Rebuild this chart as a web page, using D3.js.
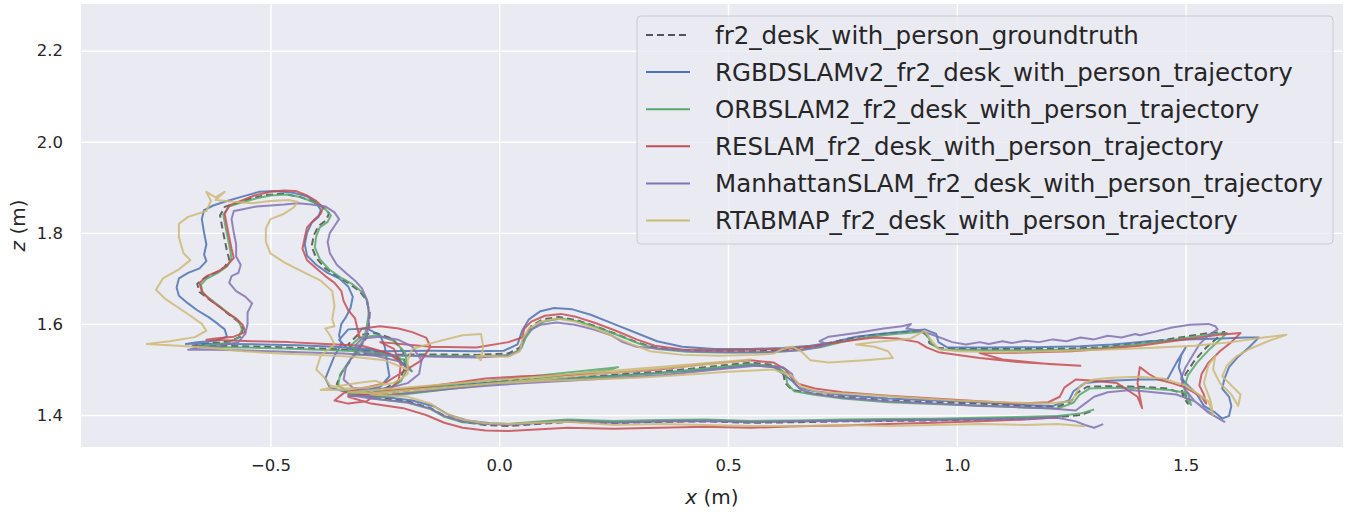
<!DOCTYPE html>
<html>
<head>
<meta charset="utf-8">
<script src="https://cdn.jsdelivr.net/npm/d3@7"></script>
<style>
  body { margin: 0; background: #fff; }
  text { font-family: "DejaVu Sans", sans-serif; fill: #262626; }
</style>
</head>
<body>
<script>
// trajectories, [x, z] in metres
const groundtruth = [
  [-0.20,1.500],[-0.22,1.525],[-0.26,1.538],[-0.32,1.543],[-0.40,1.546],[-0.48,1.549],[-0.56,1.551],[-0.63,1.552],[-0.67,1.552],
  [-0.64,1.557],[-0.59,1.561],[-0.565,1.572],[-0.56,1.590],[-0.57,1.605],[-0.59,1.620],[-0.61,1.637],[-0.635,1.655],[-0.655,1.670],[-0.66,1.688],[-0.645,1.700],[-0.62,1.712],[-0.60,1.725],[-0.59,1.742],[-0.595,1.760],[-0.60,1.785],[-0.605,1.810],[-0.61,1.838],[-0.60,1.857],[-0.575,1.865],[-0.545,1.875],[-0.51,1.883],[-0.475,1.886],[-0.44,1.880],[-0.41,1.870],[-0.385,1.857],[-0.372,1.843],[-0.378,1.828],[-0.395,1.815],[-0.405,1.795],[-0.41,1.770],[-0.40,1.745],[-0.38,1.722],[-0.355,1.705],[-0.33,1.690],[-0.305,1.672],[-0.29,1.652],[-0.283,1.625],[-0.285,1.595],[-0.29,1.570],
  [-0.305,1.548],[-0.325,1.520],[-0.345,1.492],[-0.355,1.468],[-0.335,1.452],[-0.29,1.450],[-0.25,1.458],[-0.22,1.475],[-0.205,1.505],[-0.21,1.540],[-0.235,1.568],[-0.27,1.580],[-0.31,1.575],[-0.33,1.555],[-0.31,1.535],[-0.25,1.532],
  [-0.15,1.533],[-0.05,1.532],[0.02,1.535],[0.045,1.548],[0.055,1.572],[0.07,1.595],[0.095,1.610],[0.13,1.615],[0.17,1.608],[0.21,1.595],[0.255,1.578],[0.30,1.560],[0.34,1.548],[0.40,1.542],[0.47,1.540],[0.55,1.540],[0.62,1.542],[0.69,1.550],[0.75,1.565],[0.80,1.574],[0.86,1.580],[0.92,1.585],[0.935,1.575],[0.94,1.558],[0.96,1.547],[1.05,1.545],[1.15,1.545],[1.25,1.546],[1.31,1.548],[1.38,1.556],[1.44,1.563],[1.50,1.572],[1.55,1.580],[1.585,1.582],
  [1.57,1.570],[1.545,1.548],[1.52,1.520],[1.50,1.490],[1.49,1.462],[1.495,1.440],[1.505,1.425],[1.50,1.445],
  [1.46,1.458],[1.40,1.462],[1.33,1.463],[1.285,1.462],[1.262,1.448],[1.25,1.430],[1.22,1.418],[1.15,1.420],[1.05,1.425],[0.95,1.428],[0.85,1.432],[0.75,1.440],[0.68,1.448],[0.64,1.455],[0.625,1.470],[0.62,1.495],[0.60,1.510],[0.55,1.515],[0.45,1.505],[0.35,1.495],[0.25,1.488],[0.15,1.482],[0.05,1.478],[-0.03,1.472],[-0.10,1.465],[-0.16,1.458],[-0.22,1.450],[-0.28,1.443],[-0.33,1.448],
  [-0.28,1.440],[-0.20,1.430],[-0.15,1.415],[-0.12,1.398],[-0.08,1.385],[-0.03,1.378],[0.02,1.376],[0.08,1.380],[0.15,1.385],[0.25,1.382],[0.35,1.385],[0.45,1.386],[0.55,1.383],[0.65,1.384],[0.75,1.386],[0.85,1.387],[0.95,1.388],[1.05,1.390],[1.15,1.392],[1.22,1.395],[1.27,1.400],[1.30,1.410]
]

const rgbdslam = [
  [-0.20,1.505],[-0.23,1.530],[-0.28,1.545],[-0.36,1.550],[-0.44,1.553],[-0.52,1.555],[-0.60,1.556],[-0.665,1.557],[-0.685,1.556],
  [-0.66,1.560],[-0.62,1.563],[-0.595,1.572],[-0.60,1.588],[-0.615,1.600],[-0.635,1.615],[-0.66,1.630],[-0.68,1.645],[-0.70,1.662],[-0.705,1.680],[-0.70,1.700],[-0.68,1.712],[-0.655,1.722],[-0.64,1.738],[-0.645,1.752],[-0.64,1.775],[-0.645,1.800],[-0.65,1.830],[-0.645,1.850],[-0.625,1.860],[-0.595,1.870],[-0.56,1.880],[-0.525,1.890],[-0.49,1.892],[-0.45,1.888],[-0.42,1.880],[-0.40,1.866],[-0.39,1.850],[-0.395,1.835],[-0.41,1.822],[-0.42,1.800],[-0.425,1.775],[-0.42,1.750],[-0.40,1.730],[-0.375,1.712],[-0.35,1.700],[-0.33,1.682],[-0.32,1.660],[-0.325,1.635],[-0.335,1.615],[-0.345,1.600],[-0.35,1.575],[-0.345,1.555],
  [-0.36,1.530],[-0.37,1.505],[-0.38,1.480],[-0.37,1.460],[-0.34,1.452],[-0.30,1.453],[-0.26,1.462],[-0.24,1.485],[-0.245,1.515],[-0.25,1.550],[-0.26,1.575],[-0.29,1.590],[-0.33,1.588],[-0.35,1.565],[-0.33,1.545],[-0.26,1.540],
  [-0.15,1.541],[-0.05,1.540],[0.01,1.541],[0.04,1.555],[0.05,1.585],[0.065,1.610],[0.09,1.628],[0.12,1.635],[0.16,1.632],[0.20,1.620],[0.25,1.600],[0.30,1.580],[0.345,1.562],[0.40,1.550],[0.47,1.545],[0.55,1.545],[0.62,1.547],[0.68,1.552],[0.73,1.560],[0.78,1.572],[0.83,1.578],[0.88,1.583],[0.93,1.588],[0.955,1.578],[0.96,1.560],[0.98,1.548],[1.07,1.548],[1.17,1.549],[1.27,1.551],[1.34,1.555],[1.42,1.562],[1.50,1.566],[1.58,1.568],[1.63,1.570],[1.66,1.570],
  [1.64,1.550],[1.615,1.528],[1.595,1.505],[1.585,1.480],[1.58,1.458],[1.595,1.440],[1.60,1.420],[1.595,1.398],[1.58,1.392],[1.565,1.405],
  [1.54,1.420],[1.525,1.445],[1.495,1.475],[1.485,1.505],[1.49,1.530],[1.50,1.548],[1.48,1.515],
  [1.46,1.478],[1.40,1.478],[1.33,1.475],[1.28,1.470],[1.255,1.452],[1.245,1.432],[1.21,1.420],[1.15,1.422],[1.05,1.428],[0.95,1.432],[0.85,1.436],[0.75,1.444],[0.69,1.452],[0.655,1.460],[0.64,1.475],[0.62,1.490],[0.60,1.505],[0.55,1.510],[0.45,1.500],[0.35,1.492],[0.25,1.486],[0.15,1.480],[0.05,1.476],[-0.03,1.470],[-0.10,1.466],[-0.16,1.460],[-0.22,1.455],[-0.28,1.448],[-0.33,1.452],
  [-0.27,1.442],[-0.19,1.432],[-0.14,1.418],[-0.11,1.400],[-0.07,1.388],[-0.02,1.382],[0.03,1.380],[0.09,1.384],[0.16,1.388],[0.26,1.384],[0.36,1.386],[0.46,1.388],[0.56,1.385],[0.66,1.386],[0.76,1.388],[0.86,1.389],[0.96,1.390],[1.06,1.392],[1.16,1.394],[1.23,1.397]
]

const orbslam = [
  [-0.19,1.495],[-0.21,1.522],[-0.25,1.535],[-0.31,1.540],[-0.39,1.543],[-0.47,1.546],[-0.55,1.548],[-0.62,1.549],[-0.665,1.548],
  [-0.64,1.553],[-0.595,1.558],[-0.57,1.570],[-0.562,1.588],[-0.568,1.603],[-0.585,1.618],[-0.605,1.634],[-0.628,1.652],[-0.648,1.668],[-0.652,1.686],[-0.64,1.699],[-0.615,1.712],[-0.595,1.726],[-0.585,1.744],[-0.588,1.762],[-0.593,1.788],[-0.598,1.812],[-0.603,1.840],[-0.59,1.858],[-0.565,1.866],[-0.53,1.876],[-0.50,1.882],[-0.465,1.884],[-0.432,1.878],[-0.403,1.866],[-0.38,1.852],[-0.368,1.838],[-0.375,1.824],[-0.392,1.812],[-0.40,1.792],[-0.403,1.768],[-0.392,1.742],[-0.372,1.720],[-0.348,1.703],[-0.322,1.688],[-0.30,1.670],[-0.288,1.650],[-0.285,1.622],[-0.29,1.592],[-0.295,1.568],
  [-0.31,1.545],[-0.33,1.515],[-0.348,1.488],[-0.352,1.465],[-0.33,1.450],[-0.285,1.447],[-0.245,1.456],[-0.215,1.474],[-0.20,1.502],[-0.205,1.536],[-0.228,1.562],[-0.265,1.575],[-0.305,1.570],[-0.325,1.552],[-0.305,1.533],[-0.245,1.530],
  [-0.14,1.530],[-0.04,1.529],[0.025,1.532],[0.048,1.546],[0.058,1.570],[0.074,1.592],[0.10,1.606],[0.135,1.612],[0.175,1.605],[0.215,1.592],[0.26,1.575],[0.305,1.557],[0.345,1.545],[0.41,1.539],[0.48,1.537],[0.56,1.537],[0.63,1.540],[0.70,1.548],[0.755,1.562],[0.805,1.571],[0.865,1.578],[0.925,1.583],[0.938,1.570],[0.945,1.555],[0.965,1.544],[1.06,1.542],[1.16,1.542],[1.26,1.544],[1.32,1.547],[1.39,1.555],[1.45,1.562],[1.51,1.571],[1.56,1.578],[1.59,1.580],
  [1.575,1.565],[1.55,1.542],[1.525,1.515],[1.505,1.487],[1.497,1.460],[1.50,1.438],[1.512,1.422],[1.505,1.448],
  [1.465,1.455],[1.40,1.459],[1.335,1.460],[1.29,1.458],[1.268,1.444],[1.255,1.427],[1.22,1.414],[1.15,1.416],[1.05,1.421],[0.95,1.424],[0.85,1.428],[0.75,1.436],[0.685,1.445],[0.645,1.452],[0.63,1.468],[0.625,1.492],[0.605,1.507],[0.55,1.512],[0.45,1.502],[0.35,1.492],[0.25,1.485],[0.15,1.478],[0.05,1.474],[-0.03,1.468],[-0.10,1.461],[-0.16,1.454],[-0.22,1.446],[-0.28,1.440],[-0.33,1.445],
  [-0.15,1.462],[0.26,1.505],[0.24,1.498],[-0.28,1.437],
  [-0.20,1.427],[-0.15,1.413],[-0.12,1.396],[-0.08,1.384],[-0.03,1.380],[0.02,1.380],[0.08,1.385],[0.15,1.390],[0.25,1.387],[0.35,1.389],[0.45,1.390],[0.55,1.387],[0.65,1.388],[0.75,1.390],[0.85,1.391],[0.95,1.392],[1.05,1.394],[1.15,1.396],[1.22,1.398],[1.27,1.403],[1.30,1.412]
]

const reslam = [
  [-0.21,1.510],[-0.24,1.535],[-0.30,1.552],[-0.38,1.556],[-0.46,1.560],[-0.54,1.562],[-0.60,1.564],[-0.64,1.565],
  [-0.62,1.568],[-0.58,1.572],[-0.555,1.582],[-0.56,1.597],[-0.575,1.612],[-0.595,1.625],[-0.615,1.640],[-0.635,1.655],[-0.65,1.672],[-0.655,1.690],[-0.64,1.705],[-0.615,1.715],[-0.595,1.728],[-0.58,1.745],[-0.585,1.765],[-0.59,1.790],[-0.595,1.815],[-0.60,1.842],[-0.59,1.860],[-0.565,1.870],[-0.535,1.882],[-0.50,1.890],[-0.47,1.893],[-0.445,1.892],[-0.42,1.882],[-0.40,1.870],[-0.385,1.856],[-0.39,1.842],[-0.405,1.828],[-0.42,1.812],[-0.425,1.790],[-0.43,1.765],[-0.42,1.740],[-0.40,1.722],[-0.38,1.705],[-0.36,1.690],[-0.345,1.672],[-0.34,1.650],[-0.33,1.630],[-0.315,1.612],[-0.31,1.590],[-0.305,1.570],
  [-0.31,1.575],[-0.30,1.590],[-0.26,1.595],[-0.22,1.590],[-0.19,1.582],[-0.16,1.570],[-0.15,1.550],[-0.17,1.520],[-0.21,1.495],[-0.25,1.470],[-0.30,1.458],[-0.34,1.448],[-0.36,1.432],[-0.33,1.425],[-0.29,1.430],[-0.27,1.445],[-0.24,1.455],[-0.22,1.475],[-0.215,1.510],[-0.23,1.545],[-0.26,1.560],
  [-0.15,1.550],[-0.05,1.548],[0.02,1.560],[0.05,1.570],[0.055,1.590],[0.07,1.605],[0.10,1.618],[0.135,1.622],[0.17,1.615],[0.21,1.602],[0.255,1.585],[0.30,1.566],[0.34,1.552],[0.40,1.544],[0.47,1.542],[0.55,1.543],[0.62,1.545],[0.68,1.550],[0.73,1.558],[0.78,1.565],[0.82,1.570],[0.87,1.568],[0.915,1.560],[0.935,1.548],[0.96,1.538],
  [1.05,1.525],[1.15,1.515],[1.27,1.508],[1.20,1.512],[1.10,1.522],[1.05,1.536],
  [1.15,1.537],[1.25,1.540],[1.32,1.545],[1.40,1.552],[1.47,1.562],[1.53,1.570],[1.58,1.577],[1.62,1.580],
  [1.60,1.560],[1.575,1.540],[1.55,1.515],[1.535,1.490],[1.53,1.465],[1.54,1.445],[1.545,1.425],[1.535,1.440],[1.50,1.460],[1.47,1.470],[1.44,1.478],[1.42,1.490],[1.40,1.505],[1.395,1.470],[1.40,1.440],[1.405,1.415],[1.395,1.440],
  [1.35,1.470],[1.30,1.475],[1.26,1.478],[1.235,1.460],[1.225,1.440],[1.20,1.428],[1.14,1.425],[1.05,1.430],[0.95,1.436],[0.85,1.442],[0.75,1.450],[0.69,1.458],[0.655,1.468],[0.64,1.480],[0.625,1.500],[0.60,1.515],[0.55,1.520],[0.45,1.512],[0.35,1.500],[0.25,1.493],[0.15,1.488],[0.05,1.485],[-0.03,1.480],[-0.10,1.470],[-0.16,1.462],[-0.22,1.455],[-0.28,1.448],[-0.33,1.440],
  [-0.28,1.425],[-0.21,1.415],[-0.16,1.400],[-0.12,1.383],[-0.08,1.372],[-0.03,1.366],[0.02,1.365],[0.08,1.368],[0.15,1.372],[0.25,1.370],[0.35,1.372],[0.45,1.374],[0.55,1.372],[0.65,1.375],[0.75,1.377],[0.85,1.380],[0.95,1.383],[1.05,1.386],[1.15,1.390],[1.22,1.395]
]

const manhattanslam = [
  [-0.19,1.495],[-0.22,1.518],[-0.27,1.530],[-0.34,1.535],[-0.42,1.537],[-0.50,1.540],[-0.57,1.542],[-0.63,1.543],[-0.68,1.543],
  [-0.66,1.548],[-0.61,1.552],[-0.57,1.560],[-0.555,1.578],[-0.55,1.600],[-0.55,1.625],[-0.54,1.645],[-0.555,1.660],[-0.575,1.672],[-0.59,1.690],[-0.585,1.705],[-0.57,1.712],[-0.565,1.730],[-0.575,1.748],[-0.575,1.775],[-0.58,1.800],[-0.585,1.830],[-0.58,1.848],[-0.56,1.852],[-0.53,1.858],[-0.50,1.860],[-0.47,1.862],[-0.44,1.865],[-0.41,1.862],[-0.38,1.858],[-0.36,1.845],[-0.35,1.830],[-0.36,1.815],[-0.37,1.800],[-0.375,1.780],[-0.37,1.755],[-0.355,1.730],[-0.335,1.712],[-0.315,1.695],[-0.30,1.678],[-0.29,1.655],[-0.285,1.630],[-0.285,1.600],[-0.29,1.575],
  [-0.30,1.555],[-0.32,1.530],[-0.335,1.505],[-0.34,1.478],[-0.32,1.460],[-0.28,1.455],[-0.24,1.460],[-0.20,1.470],[-0.175,1.490],[-0.17,1.520],[-0.19,1.550],[-0.22,1.565],[-0.26,1.572],[-0.30,1.568],[-0.315,1.552],[-0.29,1.535],[-0.24,1.532],
  [-0.14,1.528],[-0.05,1.526],[0.02,1.530],[0.045,1.542],[0.052,1.565],[0.065,1.585],[0.09,1.598],[0.125,1.603],[0.165,1.598],[0.205,1.588],[0.245,1.575],[0.27,1.560],[0.30,1.550],[0.36,1.545],[0.42,1.540],[0.50,1.538],[0.58,1.538],[0.66,1.542],[0.70,1.550],[0.72,1.555],[0.70,1.562],[0.72,1.572],[0.78,1.580],[0.84,1.590],[0.88,1.595],[0.90,1.600],[0.89,1.590],[0.92,1.585],[0.95,1.575],[0.99,1.560],
  [1.02,1.555],[1.05,1.560],[1.07,1.556],[1.10,1.562],[1.12,1.558],[1.15,1.563],[1.18,1.560],[1.21,1.566],[1.24,1.562],[1.27,1.570],[1.30,1.566],[1.33,1.574],[1.36,1.570],[1.39,1.578],[1.40,1.575],[1.43,1.582],[1.47,1.592],[1.51,1.598],[1.55,1.600],[1.565,1.595],[1.57,1.588],
  [1.55,1.575],[1.53,1.555],[1.515,1.530],[1.50,1.505],[1.49,1.480],[1.50,1.455],[1.52,1.430],[1.55,1.405],[1.585,1.385],[1.56,1.400],
  [1.52,1.430],[1.48,1.445],[1.43,1.450],[1.38,1.455],[1.33,1.450],[1.30,1.440],[1.28,1.425],[1.26,1.410],[1.20,1.415],[1.12,1.418],[1.05,1.420],[0.95,1.425],[0.85,1.430],[0.75,1.438],[0.69,1.446],[0.66,1.455],[0.645,1.470],[0.64,1.490],[0.62,1.505],[0.56,1.508],[0.46,1.498],[0.36,1.488],[0.26,1.482],[0.16,1.476],[0.06,1.470],[-0.02,1.465],[-0.10,1.458],[-0.16,1.452],[-0.22,1.446],[-0.28,1.440],[-0.33,1.444],
  [-0.28,1.436],[-0.20,1.428],[-0.15,1.414],[-0.12,1.398],[-0.08,1.386],[-0.03,1.380],[0.02,1.378],[0.08,1.382],[0.15,1.386],[0.25,1.383],[0.35,1.386],[0.45,1.387],[0.55,1.384],[0.65,1.386],[0.75,1.387],[0.85,1.388],[0.95,1.389],[1.05,1.390],[1.15,1.392],[1.22,1.394],[1.26,1.386],[1.28,1.378],[1.30,1.372],[1.32,1.380]
]

const rtabmap = [
  [-0.20,1.500],[-0.25,1.520],[-0.32,1.528],[-0.40,1.532],[-0.48,1.535],[-0.56,1.540],[-0.64,1.548],[-0.72,1.553],[-0.77,1.556],
  [-0.72,1.562],[-0.665,1.571],[-0.64,1.585],[-0.65,1.600],[-0.675,1.618],[-0.70,1.635],[-0.73,1.655],[-0.75,1.675],[-0.735,1.700],[-0.70,1.720],[-0.675,1.740],[-0.69,1.755],[-0.70,1.790],[-0.70,1.820],[-0.68,1.835],[-0.64,1.848],[-0.63,1.870],[-0.64,1.890],[-0.62,1.878],[-0.60,1.890],[-0.62,1.872],[-0.58,1.868],[-0.54,1.865],[-0.50,1.870],[-0.46,1.872],[-0.44,1.868],[-0.45,1.855],[-0.47,1.842],[-0.50,1.830],[-0.51,1.810],[-0.51,1.780],[-0.50,1.755],[-0.47,1.735],[-0.43,1.715],[-0.39,1.695],[-0.365,1.672],[-0.36,1.640],[-0.365,1.610],[-0.36,1.595],[-0.38,1.590],[-0.37,1.575],
  [-0.36,1.555],[-0.39,1.530],[-0.40,1.500],[-0.38,1.480],[-0.37,1.465],[-0.34,1.458],[-0.29,1.460],[-0.25,1.468],[-0.27,1.475],[-0.31,1.470],[-0.36,1.462],[-0.39,1.455],[-0.34,1.455],[-0.28,1.462],[-0.23,1.470],[-0.20,1.490],[-0.20,1.520],[-0.19,1.545],[-0.14,1.560],[-0.08,1.575],[-0.04,1.578],[-0.035,1.550],[-0.04,1.520],
  [-0.05,1.530],[0.02,1.528],[0.045,1.540],[0.05,1.565],[0.065,1.590],[0.09,1.605],[0.125,1.612],[0.165,1.605],[0.21,1.590],[0.25,1.572],[0.29,1.555],[0.33,1.540],[0.40,1.532],[0.48,1.530],[0.56,1.532],[0.60,1.535],[0.62,1.545],[0.64,1.550],[0.66,1.540],[0.68,1.520],[0.72,1.515],[0.80,1.520],[0.86,1.525],[0.85,1.540],[0.82,1.550],[0.78,1.555],[0.82,1.560],[0.90,1.568],[0.93,1.585],[0.94,1.570],[0.96,1.545],[1.00,1.540],[1.10,1.538],[1.20,1.540],[1.28,1.542],[1.36,1.545],[1.44,1.548],[1.52,1.552],[1.60,1.560],[1.67,1.570],[1.72,1.576],
  [1.68,1.562],[1.64,1.545],[1.61,1.528],[1.59,1.508],[1.58,1.485],[1.60,1.465],[1.62,1.445],[1.615,1.420],[1.60,1.445],[1.575,1.470],[1.56,1.500],[1.565,1.530],[1.55,1.510],[1.54,1.470],[1.555,1.430],[1.56,1.400],[1.55,1.430],
  [1.50,1.465],[1.45,1.480],[1.40,1.484],[1.34,1.482],[1.30,1.478],[1.27,1.465],[1.26,1.445],[1.25,1.430],[1.20,1.425],[1.10,1.428],[1.00,1.432],[0.90,1.438],[0.80,1.445],[0.70,1.450],[0.66,1.462],[0.64,1.485],[0.60,1.500],[0.50,1.495],[0.40,1.488],[0.30,1.482],[0.20,1.478],[0.10,1.475],[0.0,1.470],[-0.10,1.462],[-0.20,1.455],[-0.28,1.448],[-0.33,1.450],
  [0.55,1.522],[0.50,1.515],[-0.28,1.445],
  [-0.20,1.440],[-0.15,1.425],[-0.12,1.405],[-0.08,1.390],[-0.03,1.382],[0.02,1.380],[0.08,1.383],[0.15,1.385],[0.25,1.378],[0.35,1.380],[0.45,1.378],[0.55,1.376],[0.65,1.375],[0.75,1.378],[0.85,1.376],[0.95,1.378],[1.05,1.380],[1.15,1.378],[1.22,1.380],[1.28,1.375]
]

const seriesNames = [
  'fr2_desk_with_person_groundtruth',
  'RGBDSLAMv2_fr2_desk_with_person_trajectory',
  'ORBSLAM2_fr2_desk_with_person_trajectory',
  'RESLAM_fr2_desk_with_person_trajectory',
  'ManhattanSLAM_fr2_desk_with_person_trajectory',
  'RTABMAP_fr2_desk_with_person_trajectory'
]
const seriesData = [groundtruth, rgbdslam, orbslam, reslam, manhattanslam, rtabmap]
const colors = ['#555555', '#4c72b0', '#55a868', '#c44e52', '#8172b2', '#ccb974']

const xTicks = [-0.5, 0.0, 0.5, 1.0, 1.5]
const yTicks = [1.4, 1.6, 1.8, 2.0, 2.2]

let width = 1355
let height = 515
let margin = {top: 4, right: 12, bottom: 68, left: 81}

const svg = d3.select('body').append('svg').attr('width', width).attr('height', height)

const x = d3.scaleLinear().domain([-0.914, 1.844]).range([margin.left, width - margin.right])
const y = d3.scaleLinear().domain([1.3297, 2.3025]).range([height - margin.bottom, margin.top])

svg.append('rect')
  .attr('x', margin.left).attr('y', margin.top)
  .attr('width', width - margin.left - margin.right)
  .attr('height', height - margin.top - margin.bottom)
  .attr('fill', '#eaeaf2')

svg.append('clipPath').attr('id', 'clip')
  .append('rect')
  .attr('x', margin.left).attr('y', margin.top)
  .attr('width', width - margin.left - margin.right)
  .attr('height', height - margin.top - margin.bottom)

// grid
svg.append('g')
  .attr('transform', `translate(0,${height - margin.bottom})`)
  .call(d3.axisBottom(x).tickValues(xTicks).tickSize(-(height - margin.top - margin.bottom)).tickPadding(12)
    .tickFormat(d => d3.format('.1f')(d).replace('-', '\u2212')))
  .call(g => g.select('.domain').remove())
  .call(g => g.selectAll('line').attr('stroke', '#fff').attr('stroke-width', 1.4))
  .call(g => g.selectAll('text').style('font-size', '16.5px').attr('fill', '#262626'))

svg.append('g')
  .attr('transform', `translate(${margin.left},0)`)
  .call(d3.axisLeft(y).tickValues(yTicks).tickSize(-(width - margin.left - margin.right)).tickPadding(18)
    .tickFormat(d3.format('.1f')))
  .call(g => g.select('.domain').remove())
  .call(g => g.selectAll('line').attr('stroke', '#fff').attr('stroke-width', 1.4))
  .call(g => g.selectAll('text').style('font-size', '16.5px').attr('fill', '#262626'))

// axis labels
const xl = svg.append('text').attr('x', (margin.left + width - margin.right) / 2).attr('y', 504)
  .attr('text-anchor', 'middle').style('font-size', '20px')
xl.append('tspan').attr('font-style', 'italic').text('x')
xl.append('tspan').text(' (m)')

const yl = svg.append('text')
  .attr('transform', `translate(25,${(margin.top + height - margin.bottom) / 2}) rotate(-90)`)
  .attr('text-anchor', 'middle').style('font-size', '20px')
yl.append('tspan').attr('font-style', 'italic').text('z')
yl.append('tspan').text(' (m)')

// trajectories
const line = d3.line().x(d => x(d[0])).y(d => y(d[1]))

svg.append('g').attr('clip-path', 'url(#clip)')
  .selectAll('path')
  .data(seriesData)
  .enter()
  .append('path')
  .attr('d', line)
  .attr('fill', 'none')
  .attr('stroke', (d, i) => colors[i])
  .attr('stroke-width', 2)
  .attr('stroke-opacity', (d, i) => i == 0 ? 0.9 : 0.85)
  .attr('stroke-dasharray', (d, i) => i == 0 ? '7,4' : null)
  .attr('stroke-linejoin', 'round')

// legend
const legend = svg.append('g').attr('id', 'legend')
legend.append('rect')
  .attr('x', 637).attr('y', 16).attr('width', 696).attr('height', 228)
  .attr('rx', 4)
  .attr('fill', '#eaeaf2').attr('fill-opacity', 0.8)
  .attr('stroke', '#cccccc')

const rows = legend.selectAll('.row').data(seriesNames).enter().append('g')
  .attr('class', 'row')
  .attr('transform', (d, i) => `translate(0,${35 + i * 37.1})`)

rows.append('line')
  .attr('x1', 646).attr('x2', 690).attr('y1', 0).attr('y2', 0)
  .attr('stroke', (d, i) => colors[i])
  .attr('stroke-width', 2)
  .attr('stroke-dasharray', (d, i) => i == 0 ? '7,4' : null)

rows.append('text')
  .attr('x', 715).attr('y', 8.5)
  .style('font-size', '24.5px')
  .text(d => d)
</script>
</body>
</html>
